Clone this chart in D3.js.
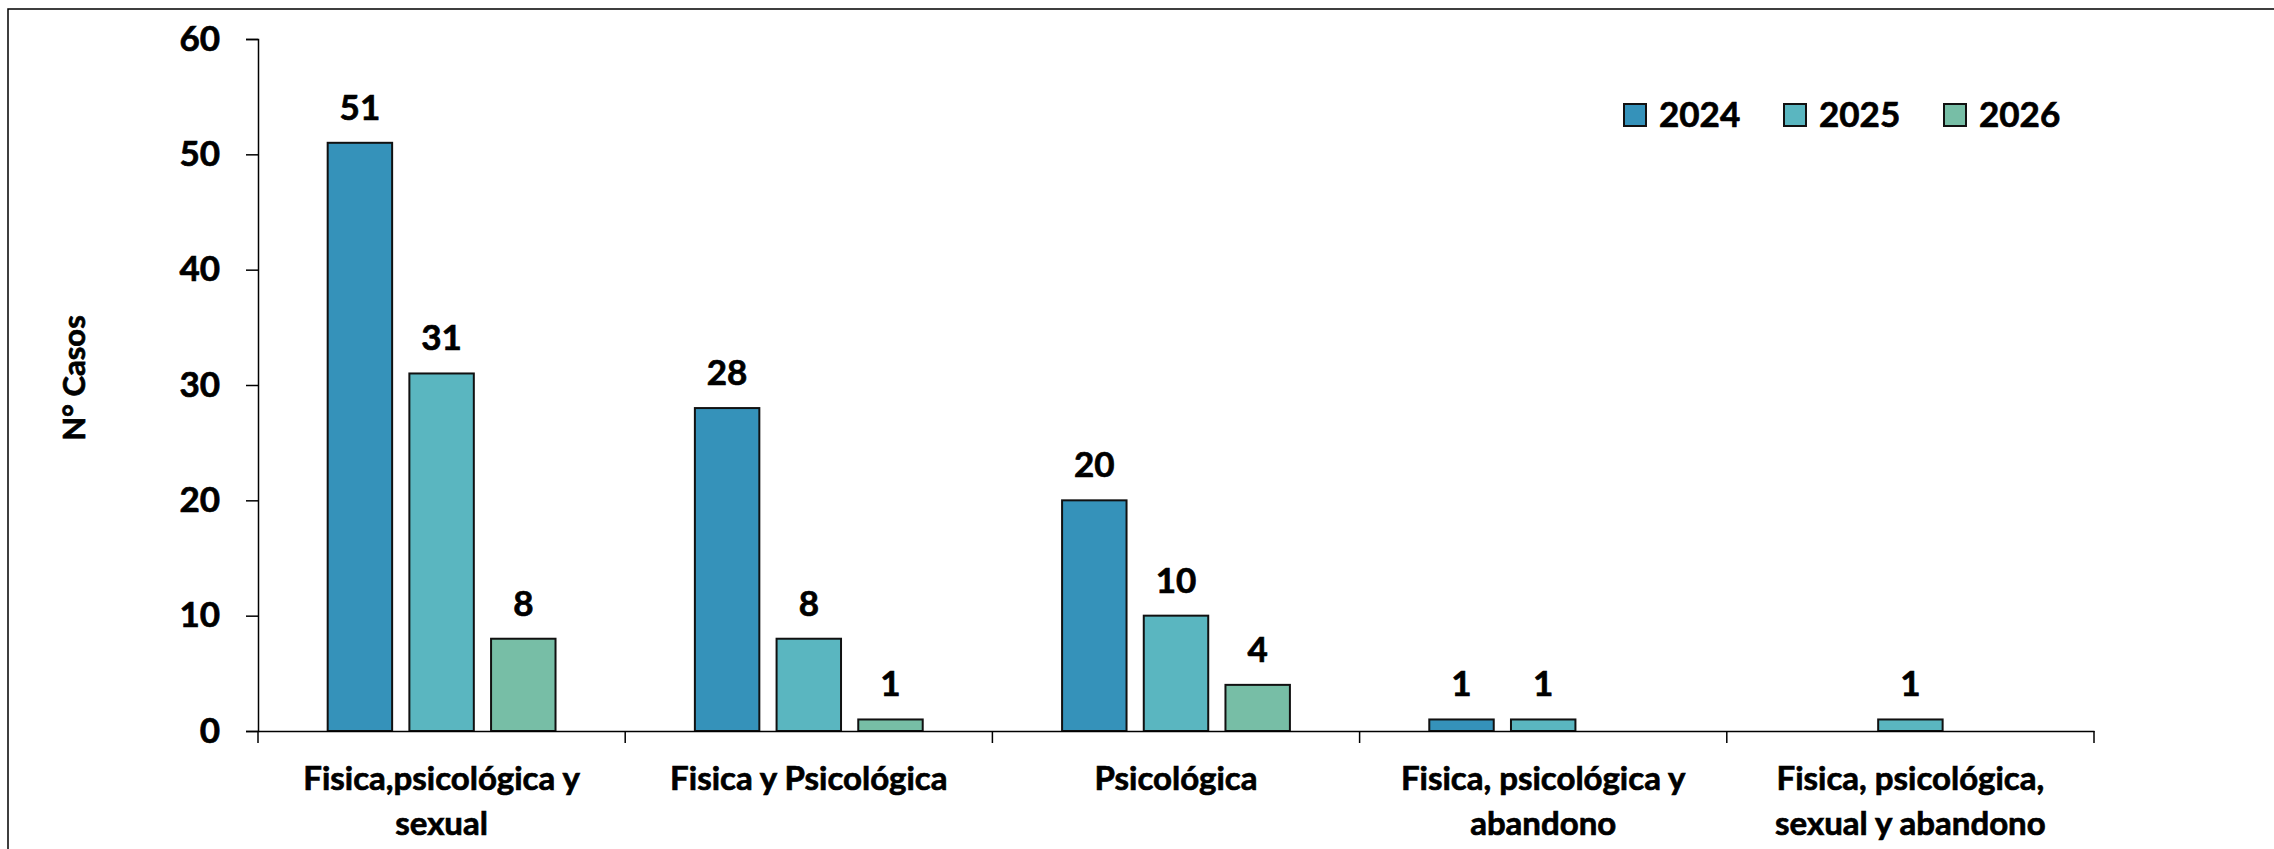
<!DOCTYPE html>
<html>
<head>
<meta charset="utf-8">
<script src="https://cdn.jsdelivr.net/npm/d3@7"></script>
<style>
  html, body { margin: 0; padding: 0; background: #fff; }
  svg { display: block; }
  text { font-family: Lato, "Open Sans", sans-serif; font-weight: 700; fill: #000; stroke: #000; stroke-width: 0.7px; }
</style>
</head>
<body>
<svg id="chart" width="2274" height="849"></svg>
<script>
// ---- data ----
const categories = [
  ["Fisica,psicológica y", "sexual"],
  ["Fisica y Psicológica"],
  ["Psicológica"],
  ["Fisica, psicológica y", "abandono"],
  ["Fisica, psicológica,", "sexual y abandono"]
];
const seriesNames = ["2024", "2025", "2026"];
const values2024 = [51, 28, 20, 1, null];
const values2025 = [31, 8, 10, 1, 1];
const values2026 = [8, 1, 4, null, null];
const seriesColors = ["#3592BA", "#5AB6C0", "#77BEA6"];
const yTicks = [0, 10, 20, 30, 40, 50, 60];
const yTitle = "N° Casos";

(function () {
const seriesValues = [values2024, values2025, values2026];
const catKeys = categories.map((c, i) => "c" + i);
const numSize = "35px";

const svg = d3.select("#chart");

// outer frame
svg.append("rect")
  .attr("x", 8).attr("y", 9)
  .attr("width", 2400).attr("height", 1000)
  .attr("fill", "none").attr("stroke", "#000").attr("stroke-width", 1.5);

const pLeft = 258, pRight = 2094, pTop = 39, pBottom = 731;

const x0 = d3.scaleBand().domain(catKeys).range([pLeft, pRight]).padding(0);
const x1 = d3.scaleBand().domain(seriesNames).range([0, x0.bandwidth()])
  .paddingInner(0.211).paddingOuter(0.853);
const y = d3.scaleLinear().domain([0, 60]).range([pBottom, pTop]);

// y axis
const yAxis = d3.axisLeft(y).tickValues(yTicks).tickSize(12).tickPadding(26).tickFormat(d3.format("d"));
const gy = svg.append("g").attr("transform", `translate(${pLeft},0)`).call(yAxis);
gy.select(".domain").attr("stroke", "#000").attr("stroke-width", 1.5);
gy.selectAll(".tick line").attr("stroke", "#000").attr("stroke-width", 1.5);
gy.selectAll(".tick text")
  .style("font-family", "Lato, sans-serif").style("font-weight", 700)
  .style("font-size", numSize).attr("fill", "#000");

// bars
const groups = svg.append("g").selectAll("g")
  .data(catKeys)
  .join("g")
  .attr("transform", d => `translate(${x0(d)},0)`);

seriesNames.forEach((s, si) => {
  groups.each(function(k, ci) {
    const v = seriesValues[si][ci];
    if (v == null) return;
    const g = d3.select(this);
    g.append("rect")
      .attr("x", x1(s))
      .attr("y", y(v))
      .attr("width", x1.bandwidth())
      .attr("height", y(0) - y(v))
      .attr("fill", seriesColors[si])
      .attr("stroke", "#111")
      .attr("stroke-width", 2);
    g.append("text")
      .attr("x", x1(s) + x1.bandwidth() / 2)
      .attr("y", y(v) - 23)
      .attr("text-anchor", "middle")
      .style("font-size", numSize)
      .text(v);
  });
});

// x axis
const xAxis = d3.axisBottom(x0).tickSize(0).tickFormat("");
const gx = svg.append("g").attr("transform", `translate(0,${pBottom})`).call(xAxis);
gx.select(".domain").attr("stroke", "#000").attr("stroke-width", 1.5);
gx.selectAll(".tick").remove();
// category separator ticks
const boundaries = catKeys.map(k => x0(k)).concat([pRight]);
svg.append("g").selectAll("line")
  .data(boundaries)
  .join("line")
  .attr("x1", d => d).attr("x2", d => d)
  .attr("y1", pBottom).attr("y2", pBottom + 12)
  .attr("stroke", "#000").attr("stroke-width", 1.5);

// category labels
svg.append("g").selectAll("text")
  .data(categories)
  .join("text")
  .attr("x", (d, i) => x0(catKeys[i]) + x0.bandwidth() / 2)
  .attr("y", 790)
  .attr("text-anchor", "middle")
  .style("font-size", "33px")
  .each(function(lines) {
    const t = d3.select(this);
    lines.forEach((ln, li) => {
      t.append("tspan")
        .attr("x", t.attr("x"))
        .attr("dy", li === 0 ? 0 : 45)
        .text(ln);
    });
  });

// y title
svg.append("text")
  .attr("transform", "translate(85,378) rotate(-90)")
  .attr("text-anchor", "middle")
  .style("font-size", "31px")
  .text(yTitle);

// legend
const legend = svg.append("g").selectAll("g")
  .data(seriesNames)
  .join("g")
  .attr("transform", (d, i) => `translate(${1624 + i * 160},104)`);
legend.append("rect")
  .attr("width", 22).attr("height", 22)
  .attr("fill", (d, i) => seriesColors[i])
  .attr("stroke", "#111").attr("stroke-width", 2);
legend.append("text")
  .attr("x", 35).attr("y", 23)
  .style("font-size", numSize)
  .text(d => d);
})();
</script>
</body>
</html>
